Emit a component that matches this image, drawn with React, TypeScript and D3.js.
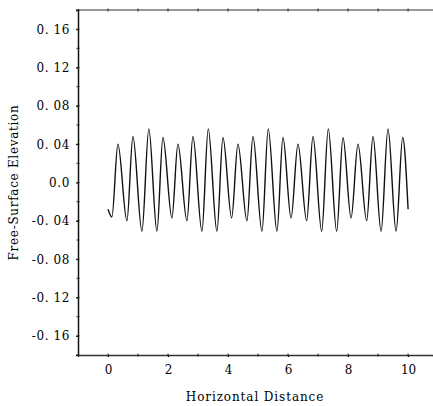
import React, { useEffect, useRef } from 'react';
import * as d3 from 'd3';

// wave extrema (horizontal distance, free-surface elevation)
const waveX = [
  0, 0.13, 0.33, 0.63, 0.83, 1.13, 1.36, 1.63, 1.83, 2.13,
  2.33, 2.63, 2.83, 3.13, 3.34, 3.63, 3.83, 4.12, 4.33, 4.63,
  4.83, 5.13, 5.34, 5.63, 5.83, 6.1, 6.33, 6.62, 6.83, 7.12,
  7.34, 7.62, 7.83, 8.1, 8.33, 8.62, 8.83, 9.1, 9.33, 9.6,
  9.82, 10,
];
const waveY = [
  -0.028, -0.036, 0.040, -0.040, 0.048, -0.051, 0.056, -0.051, 0.047, -0.037,
  0.040, -0.040, 0.048, -0.051, 0.056, -0.051, 0.047, -0.037, 0.040, -0.040,
  0.048, -0.051, 0.056, -0.051, 0.047, -0.037, 0.040, -0.040, 0.048, -0.051,
  0.056, -0.051, 0.047, -0.037, 0.040, -0.040, 0.048, -0.051, 0.056, -0.051,
  0.047, -0.028,
];

const yTicks = [0.16, 0.12, 0.08, 0.04, 0, -0.04, -0.08, -0.12, -0.16];
const yLabels = ['0. 16', '0. 12', '0. 08', '0. 04', '0.0', '-0. 04', '-0. 08', '-0. 12', '-0. 16'];
const xTicks = [0, 2, 4, 6, 8, 10];

export default function App() {
  const svgRef = useRef<SVGSVGElement>(null);

  useEffect(() => {
    const svg = d3.select(svgRef.current);
    svg.selectAll('*').remove();

    const width = 433;
    const height = 406;
    const left = 78, top = 10, right = 433, bottom = 355;
    const font = "'DejaVu Serif', serif";

    const x = d3.scaleLinear().domain([-1, 10.83]).range([left, right]);
    const y = d3.scaleLinear().domain([-0.18, 0.18]).range([bottom, top]);

    svg.attr('width', width).attr('height', height);

    // frame: top line
    svg.append('line')
      .attr('x1', left).attr('x2', right).attr('y1', top).attr('y2', top)
      .attr('stroke', '#333').attr('stroke-width', 1.2);

    // y axis
    const yAxis = svg.append('g')
      .attr('transform', `translate(${left},0)`)
      .call(d3.axisLeft(y).tickValues(yTicks).tickSize(2).tickPadding(6)
        .tickFormat((d, i) => yLabels[i]));
    yAxis.select('.domain').attr('stroke', '#111').attr('stroke-width', 1.5);
    yAxis.selectAll('text')
      .style('font-family', font).style('font-size', '12px')
      .style('letter-spacing', '0.6px').attr('fill', '#000');

    // minor y ticks
    svg.append('g')
      .selectAll('line')
      .data(d3.range(-0.18, 0.181, 0.02))
      .join('line')
      .attr('x1', left - 1.5).attr('x2', left + 1.5)
      .attr('y1', (d) => y(d)).attr('y2', (d) => y(d))
      .attr('stroke', '#222');

    // x axis
    const xAxis = svg.append('g')
      .attr('transform', `translate(0,${bottom})`)
      .call(d3.axisBottom(x).tickValues(xTicks).tickSize(2).tickPadding(8)
        .tickFormat(d3.format('d')));
    xAxis.select('.domain').attr('stroke', '#333').attr('stroke-width', 1.3);
    xAxis.selectAll('text')
      .style('font-family', font).style('font-size', '12px').attr('fill', '#000');

    // small marks along top and bottom lines
    svg.append('g')
      .selectAll('line')
      .data(d3.range(0, 11, 1))
      .join('line')
      .attr('x1', (d) => x(d)).attr('x2', (d) => x(d))
      .attr('y1', top - 1.5).attr('y2', top + 1.5)
      .attr('stroke', '#222');
    svg.append('g')
      .selectAll('line')
      .data(d3.range(0, 11, 1))
      .join('line')
      .attr('x1', (d) => x(d)).attr('x2', (d) => x(d))
      .attr('y1', bottom - 1.5).attr('y2', bottom + 1.5)
      .attr('stroke', '#222');

    // wave
    const pts = waveX.map((v, i) => [v, waveY[i]] as [number, number]);
    const line = d3.line<[number, number]>()
      .x((d) => x(d[0]))
      .y((d) => y(d[1]))
      .curve(d3.curveMonotoneX);
    svg.append('path')
      .datum(pts)
      .attr('d', line)
      .attr('fill', 'none')
      .attr('stroke', '#111')
      .attr('stroke-width', 1.4);

    // axis titles
    svg.append('text')
      .attr('x', 255).attr('y', 401)
      .attr('text-anchor', 'middle')
      .style('font-family', font).style('font-size', '12px')
      .style('letter-spacing', '0.9px')
      .attr('fill', '#000')
      .text('Horizontal Distance');

    svg.append('text')
      .attr('transform', `translate(18,${y(0)}) rotate(-90)`)
      .attr('text-anchor', 'middle')
      .style('font-family', font).style('font-size', '12px')
      .style('letter-spacing', '0.7px')
      .attr('fill', '#000')
      .text('Free-Surface Elevation');
  }, []);

  return (
    <svg ref={svgRef} style={{ position: 'absolute', left: 0, top: 0, background: '#fff' }} />
  );
}
